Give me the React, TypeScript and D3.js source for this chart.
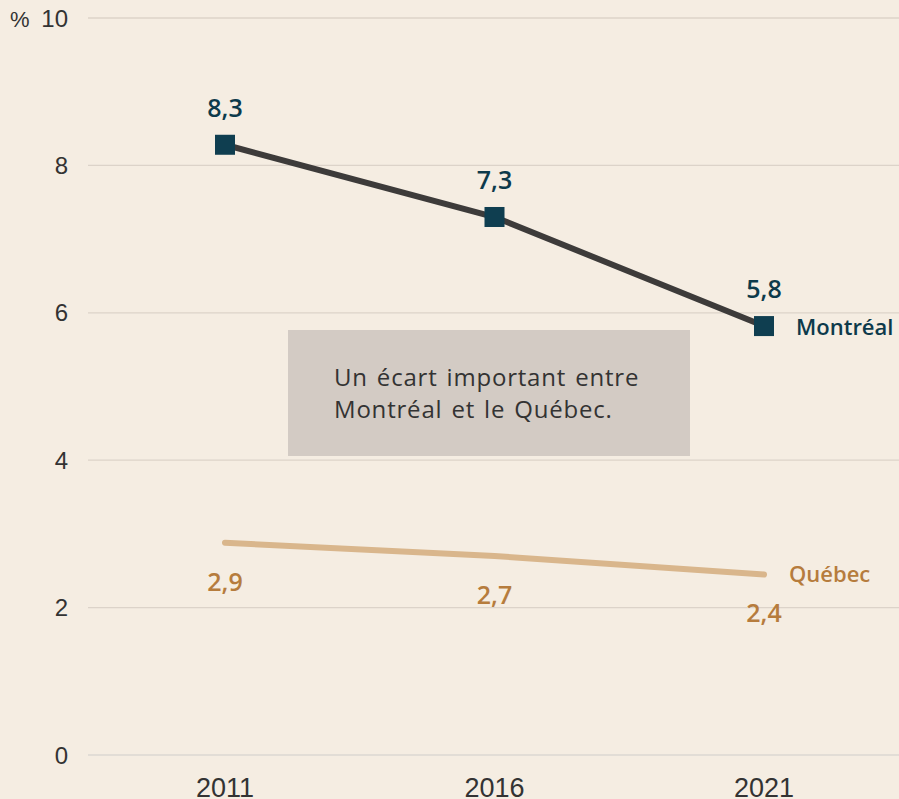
import * as d3 from "d3";

const years = ["2011", "2016", "2021"];
const montreal = [8.28, 7.3, 5.82];
const quebec = [2.88, 2.7, 2.45];
const montrealLabels = ["8,3", "7,3", "5,8"];
const quebecLabels = ["2,9", "2,7", "2,4"];
const yTicks = [0, 2, 4, 6, 8, 10];
const note = ["Un écart important entre", "Montréal et le Québec."];

const W = 899;
const H = 799;
const BG = "#f5ede2";

export default function App() {
  const x = d3.scalePoint<string>().domain(years).range([225, 764]);
  const y = d3.scaleLinear().domain([0, 10]).range([755, 18]);

  const line = d3
    .line<number>()
    .x((_, i) => x(years[i]) as number)
    .y((d) => y(d));

  return (
    <svg
      width={W}
      height={H}
      style={{ position: "absolute", left: 0, top: 0, background: BG }}
    >
      <rect width={W} height={H} fill={BG} />
      {yTicks.map((t) => (
        <g key={t}>
          <line
            x1={88}
            x2={W}
            y1={y(t)}
            y2={y(t)}
            stroke={t === 0 ? "#e2ddd6" : "#dcd3c9"}
            strokeWidth={t === 0 ? 2 : 1.3}
          />
          <text
            x={68}
            y={y(t) + 8.5}
            textAnchor="end"
            fontFamily="Liberation Sans, Arial, sans-serif"
            fontSize={24}
            fill="#333"
          >
            {t}
          </text>
        </g>
      ))}
      <text
        x={10}
        y={y(10) + 8.5}
        fontFamily="Liberation Sans, Arial, sans-serif"
        fontSize={22}
        fill="#333"
      >
        %
      </text>

      {years.map((yr) => (
        <text
          key={yr}
          x={x(yr)}
          y={797}
          textAnchor="middle"
          fontFamily="Liberation Sans, Arial, sans-serif"
          fontSize={27}
          fill="#333"
        >
          {yr}
        </text>
      ))}

      <rect x={288} y={330} width={402} height={126} fill="#d3cbc4" />
      {note.map((s, i) => (
        <text
          key={i}
          x={334}
          y={386 + i * 32}
          fontFamily="Open Sans, sans-serif"
          fontSize={24}
          letterSpacing={0.8}
          wordSpacing={2}
          fill="#333"
        >
          {s}
        </text>
      ))}

      <path
        d={line(quebec) ?? ""}
        fill="none"
        stroke="#d9b68c"
        strokeWidth={6}
        strokeLinecap="round"
      />
      {quebec.map((v, i) => (
        <text
          key={i}
          x={x(years[i])}
          y={y(v) + 48}
          textAnchor="middle"
          fontFamily="Open Sans, sans-serif"
          fontWeight={600}
          fontSize={25}
          fill="#b67c3d"
        >
          {quebecLabels[i]}
        </text>
      ))}
      <text
        x={789}
        y={y(quebec[2]) + 8}
        fontFamily="Open Sans, sans-serif"
        fontWeight={600}
        fontSize={22}
        fill="#b67c3d"
      >
        Québec
      </text>

      <path
        d={line(montreal) ?? ""}
        fill="none"
        stroke="#3d3b3a"
        strokeWidth={6}
        strokeLinecap="round"
      />
      {montreal.map((v, i) => (
        <g key={i}>
          <rect
            x={(x(years[i]) as number) - 10}
            y={y(v) - 10}
            width={20}
            height={20}
            fill="#0f3e50"
          />
          <text
            x={x(years[i])}
            y={y(v) - 28}
            textAnchor="middle"
            fontFamily="Open Sans, sans-serif"
            fontWeight={600}
            fontSize={25}
            fill="#0d3a4b"
          >
            {montrealLabels[i]}
          </text>
        </g>
      ))}
      <text
        x={796}
        y={y(montreal[2]) + 9}
        fontFamily="Open Sans, sans-serif"
        fontWeight={600}
        fontSize={22}
        fill="#0d3a4b"
      >
        Montréal
      </text>
    </svg>
  );
}
